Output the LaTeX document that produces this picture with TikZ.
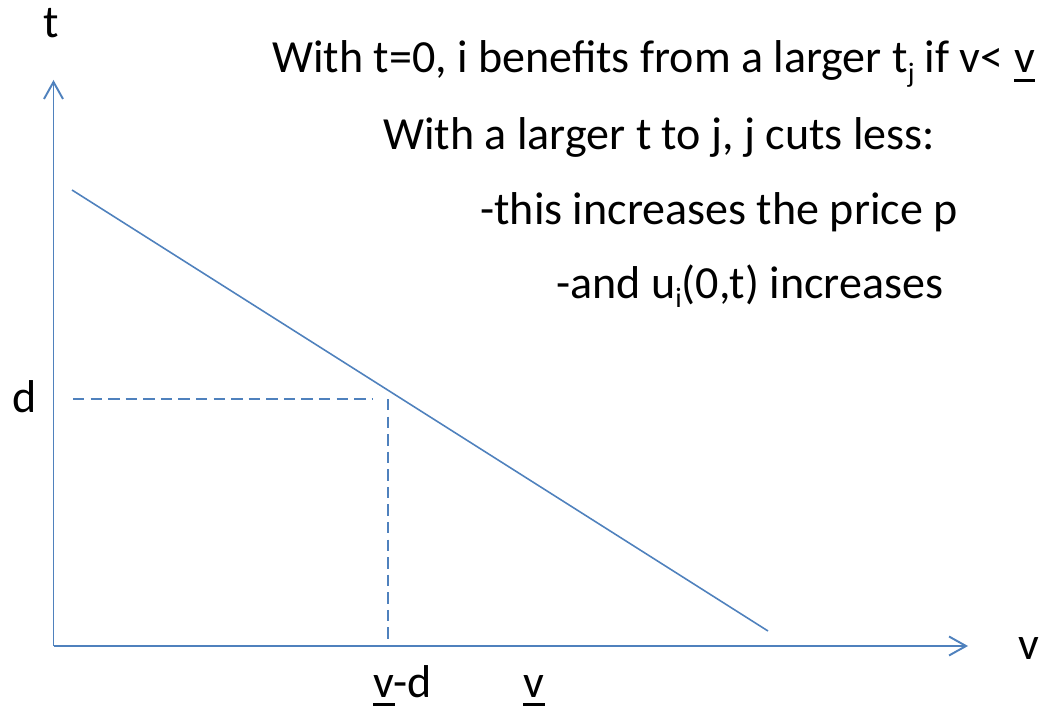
\documentclass[tikz,border=0pt]{standalone}
\usepackage{fontspec}
\setmainfont{Carlito}
\usetikzlibrary{arrows.meta, positioning}
\definecolor{axisblue}{RGB}{79, 129, 189}
\newcommand{\vbar}{\leavevmode\rlap{\rule[-0.2em]{0.46em}{0.07em}}v}
\newcommand{\subtxt}[1]{\raisebox{-0.2em}{\fontsize{16}{18}\selectfont #1}}

\begin{document}
\begin{tikzpicture}[x=0.02cm, y=-0.02cm,
    every node/.style={font=\fontsize{26.2}{31}\selectfont, inner sep=0pt},
    axis/.style={axisblue, line width=1.1pt, -{Straight Barb[length=3.4mm, width=3.8mm]}},
    guide/.style={axisblue, line width=0.9pt, dash pattern=on 6.5pt off 3.5pt}]

        \useasboundingbox (0,0) rectangle (1043,709);

        % Ejes
        \coordinate (O) at (53.5,646);
        \coordinate (tend) at (53.5,80);
        \coordinate (vend) at (968,646);
        \draw[axis] (O) -- (tend);
        \draw[axis] (O) -- (vend);
        \node[anchor=base west] (tlab) at (43,38) {t};
        \node[anchor=base west] (vlab) at (1018,659) {v};

        % Recta
        \coordinate (top) at (72,190);
        \coordinate (bot) at (768,631);
        \draw[axisblue, line width=0.9pt] (top) -- (bot);

        % --- Guías ---
        \coordinate (dstart) at (73,399);
        \coordinate (dend) at (373,399);
        \coordinate (vdtop) at (388,399);
        \coordinate (vdbot) at (388,646);
        \draw[guide] (dstart) -- (dend);
        \draw[guide] (vdtop) -- (vdbot);
        \node[anchor=base west] (dlab) at (12,412) {d};
        \node[anchor=base west] (vdlab) at (373,697) {\vbar-d};
        \node[anchor=base west] (vlow) at (523,697) {\vbar};

        % Texto
        \node[anchor=base west] (line1) at (272,73) {With t=0, i benefits from a larger t\subtxt{j} if v< \vbar};
        \node[anchor=base west] (line2) at (383,150) {With a larger t to j, j cuts less:};
        \node[anchor=base west] (line3) at (480,225) {-this increases the price p};
        \node[anchor=base west] (line4) at (556,298) {-and u\subtxt{i}(0,t) increases};

    \end{tikzpicture}
\end{document}
